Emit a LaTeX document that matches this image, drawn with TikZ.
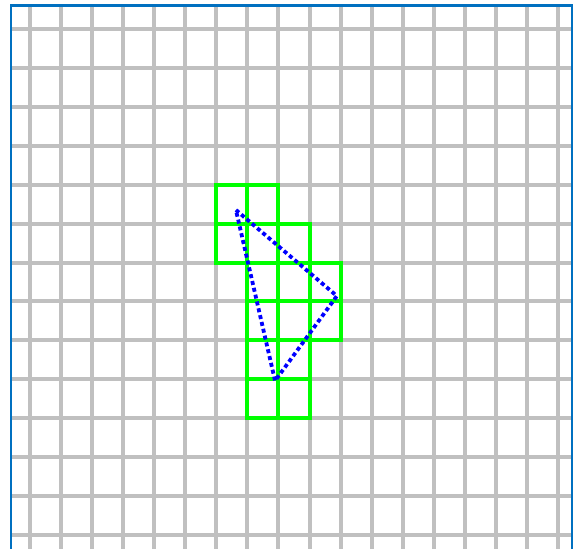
\documentclass[tikz,border=0pt]{standalone}
\usepackage{xcolor}
\usepackage{tikz}
\usetikzlibrary{calc}
\definecolor{gridline}{HTML}{C0C0C0}
\definecolor{frame}{HTML}{0070C0}
\definecolor{covered}{HTML}{00FF00}
\definecolor{edge}{HTML}{0000FF}

\begin{document}
\begin{tikzpicture}[x=1pt, y=-1pt]

  \clip (0,0) rectangle (574,549);

  \begin{scope}[shift={(30,29)}, x=31.06pt, y=-38.92pt]

    % --- Grid ---
    \foreach \i in {0,...,17}
      \draw[gridline, line width=4pt] (\i,-0.62) -- (\i,14);
    \foreach \j in {0,...,13}
      \draw[gridline, line width=4pt] (-0.61,\j) -- (17.45,\j);

    % --- Frame ---
    \draw[frame, line width=2.8pt] (-0.61,14) -- (-0.61,-0.61) -- (17.45,-0.61) -- (17.45,14);

    % --- Cells touched by the triangle ---
    \foreach \c/\r in {6/4, 7/4, 6/5, 7/5, 8/5, 7/6, 8/6, 9/6,
                       7/7, 8/7, 9/7, 7/8, 8/8, 7/9, 8/9}
      \draw[covered, line width=4pt] (\c,\r) rectangle ++(1,1);

    % --- Triangle ---
    \coordinate (apex) at (6.63,4.65);
    \coordinate (tip) at (9.88,6.86);
    \coordinate (foot) at (7.89,9.04);
    \draw[edge, line width=3.8pt, dash pattern=on 4pt off 3pt]
      (apex) -- (tip) -- (foot) -- cycle;

  \end{scope}

\end{tikzpicture}
\end{document}
